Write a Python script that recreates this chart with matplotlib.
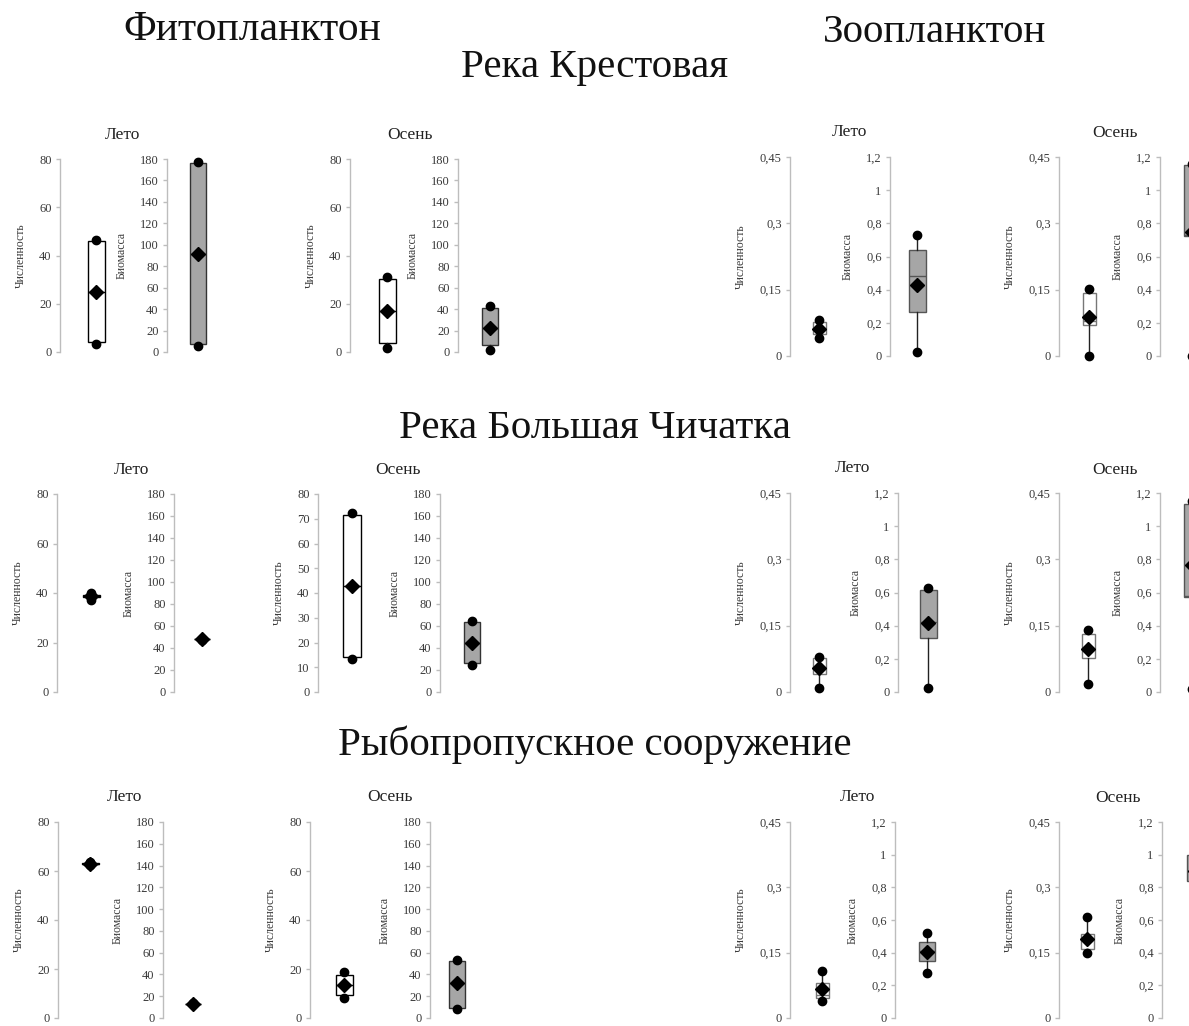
import matplotlib
matplotlib.use("Agg")
import matplotlib.pyplot as plt

plt.rcParams['font.family'] = ['Liberation Serif', 'DejaVu Serif']

# ---------------- data ----------------
sites = ["Река Крестовая", "Река Большая Чичатка", "Рыбопропускное сооружение"]
seasons = ["Лето", "Осень"]
groups = ["Фитопланктон", "Зоопланктон"]
ylabel_num = "Численность"
ylabel_bio = "Биомасса"

# each entry: (min, q1, median, q3, max, mean); order: site1-Лето, site1-Осень, site2-Лето, ...
phyto_num = [
    (3.2, 4.2, 24.9, 46.0, 46.4, 25.0),
    (1.7, 3.7, 16.9, 30.3, 31.1, 16.9),
    (37.3, 38.2, 38.7, 39.2, 39.8, 38.8),
    (13.3, 14.1, 42.7, 71.7, 72.4, 42.7),
    (62.3, 62.7, 63.0, 63.2, 63.5, 62.8),
    (8.1, 9.4, 13.4, 17.7, 18.6, 13.4),
]
phyto_bio = [
    (5.3, 7.2, 91.0, 176.0, 176.9, 91.0),
    (1.6, 6.2, 22.7, 41.4, 42.6, 22.7),
    (47.6, 47.8, 48.1, 48.3, 48.5, 48.1),
    (24.6, 26.1, 44.8, 63.7, 64.3, 44.8),
    (12.8, 13.0, 13.1, 13.3, 13.5, 13.1),
    (8.5, 9.1, 31.8, 52.0, 52.9, 31.8),
]
zoo_num = [
    (0.041, 0.050, 0.060, 0.077, 0.082, 0.062),
    (0.000, 0.070, 0.079, 0.142, 0.151, 0.089),
    (0.009, 0.040, 0.054, 0.076, 0.079, 0.054),
    (0.019, 0.077, 0.098, 0.132, 0.140, 0.098),
    (0.038, 0.046, 0.053, 0.080, 0.108, 0.066),
    (0.149, 0.158, 0.181, 0.194, 0.231, 0.181),
]
zoo_bio = [
    (0.024, 0.264, 0.480, 0.637, 0.730, 0.430),
    (0.000, 0.726, 0.728, 1.154, 1.160, 0.750),
    (0.026, 0.323, 0.420, 0.615, 0.625, 0.418),
    (0.020, 0.575, 0.578, 1.134, 1.150, 0.765),
    (0.275, 0.346, 0.410, 0.464, 0.519, 0.407),
    (0.780, 0.840, 0.900, 1.000, 1.050, 0.900),
]

phyto_num_ticks = [0, 20, 40, 60, 80]
phyto_num_ticks_fine = [0, 10, 20, 30, 40, 50, 60, 70, 80]
phyto_bio_ticks = [0, 20, 40, 60, 80, 100, 120, 140, 160, 180]
zoo_num_ticks = [0, 0.15, 0.3, 0.45]
zoo_num_labels = ["0", "0,15", "0,3", "0,45"]
zoo_bio_ticks = [0, 0.2, 0.4, 0.6, 0.8, 1.0, 1.2]
zoo_bio_labels = ["0", "0,2", "0,4", "0,6", "0,8", "1", "1,2"]

# ---------------- layout (pixels) ----------------
W, H = 1189, 1026
# per row: for each of 8 axes (spine x, box center x)
row_x = [
    [(60, 96), (167, 198), (350, 387), (458, 490), (790, 819), (890, 917), (1059, 1089), (1160, 1192)],
    [(57, 91), (174, 202), (318, 352), (440, 472), (790, 819), (898, 928), (1059, 1088), (1160, 1192)],
    [(58, 90), (163, 193), (310, 344), (430, 457), (790, 822), (895, 927), (1059, 1087), (1162, 1195)],
]
row_y_phyto = [(159, 352), (494, 692), (822, 1018)]
row_y_zoo = [(157, 356), (493, 692), (822, 1018)]
season_title_xy = [
    [(123, 135), (410, 135), (850, 132), (1115, 133)],
    [(132, 470), (398, 470), (853, 468), (1115, 470)],
    [(125, 797), (390, 797), (858, 797), (1118, 798)],
]
site_title_y = [68, 428, 745]

fig = plt.figure(figsize=(W / 100, H / 100), dpi=100)
fig.patch.set_facecolor('white')

fig.text(252 / W, 1 - 30 / H, groups[0], ha='center', va='center', fontsize=30, color='#111111')
fig.text(935 / W, 1 - 32 / H, groups[1], ha='center', va='center', fontsize=29.5, color='#111111')
for s, y in zip(sites, site_title_y):
    fig.text(595 / W, 1 - y / H, s, ha='center', va='center', fontsize=29.5, color='#111111')

spine_col = '#bdbdbd'
lab_col = '#3a3a3a'


def draw(x_spine, x_box, ytop, ybot, stats, ylim, ticks, labels, ylabel,
         face, edge, box_px):
    w = 2 * (x_box - x_spine)
    ax = fig.add_axes([x_spine / W, 1 - ybot / H, w / W, (ybot - ytop) / H])
    ax.set_facecolor('none')
    mn, q1, med, q3, mx, mean = stats
    st = dict(med=med, q1=q1, q3=q3, whislo=mn, whishi=mx, mean=mean, fliers=[mn, mx])
    ax.bxp([st], positions=[1], widths=[2 * box_px / w], showmeans=True,
           showfliers=True, showcaps=False, patch_artist=True,
           boxprops=dict(facecolor=face, edgecolor=edge, linewidth=1.0),
           medianprops=dict(color=edge, linewidth=1.0),
           whiskerprops=dict(color='#222222', linewidth=1.0),
           meanprops=dict(marker='D', markerfacecolor='black', markeredgecolor='black', markersize=7),
           flierprops=dict(marker='o', markerfacecolor='black', markeredgecolor='black', markersize=6))
    ax.set_xlim(0, 2)
    ax.set_ylim(ylim)
    ax.set_xticks([])
    ax.set_yticks(ticks)
    ax.set_yticklabels(labels)
    for k in ['top', 'right', 'bottom']:
        ax.spines[k].set_visible(False)
    ax.spines['left'].set_color(spine_col)
    ax.spines['left'].set_linewidth(1.0)
    ax.tick_params(axis='y', direction='out', length=3, width=1, color=spine_col,
                   labelsize=9, labelcolor=lab_col, pad=3)
    ax.set_ylabel(ylabel, fontsize=8.5, color=lab_col, labelpad=9)
    for a in ax.get_children():
        try:
            a.set_clip_on(False)
        except Exception:
            pass
    return ax


for r in range(3):
    xs = row_x[r]
    ptop, pbot = row_y_phyto[r]
    ztop, zbot = row_y_zoo[r]
    for si in range(2):
        idx = 2 * r + si
        # phytoplankton
        nt = phyto_num_ticks_fine if (r == 1 and si == 1) else phyto_num_ticks
        draw(*xs[2 * si], ptop, pbot, phyto_num[idx], (0, 80), nt, [str(t) for t in nt],
             ylabel_num, 'white', 'black', 17)
        draw(*xs[2 * si + 1], ptop, pbot, phyto_bio[idx], (0, 180), phyto_bio_ticks,
             [str(t) for t in phyto_bio_ticks], ylabel_bio, '#a6a6a6', '#333333', 16)
        # zooplankton
        draw(*xs[4 + 2 * si], ztop, zbot, zoo_num[idx], (0, 0.45), zoo_num_ticks, zoo_num_labels,
             ylabel_num, 'white', '#777777', 13)
        draw(*xs[4 + 2 * si + 1], ztop, zbot, zoo_bio[idx], (0, 1.2), zoo_bio_ticks, zoo_bio_labels,
             ylabel_bio, '#a6a6a6', '#555555', 17)
    for j in range(4):
        x, y = season_title_xy[r][j]
        fig.text(x / W, 1 - y / H, seasons[j % 2], ha='center', va='center', fontsize=12.5, color='#222222')

fig.savefig('out.png', dpi=100, facecolor='white')
